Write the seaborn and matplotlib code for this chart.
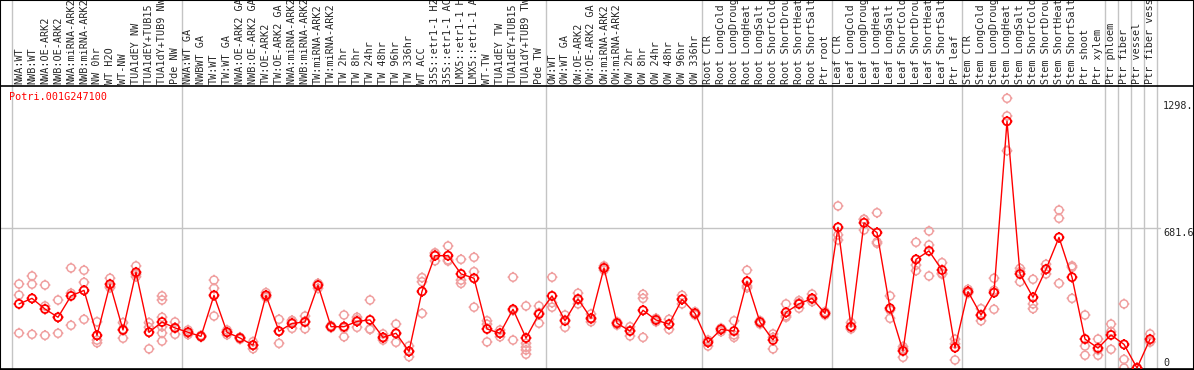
import matplotlib
matplotlib.use("Agg")
import matplotlib.pyplot as plt
from matplotlib.path import Path
from matplotlib.markers import MarkerStyle
import matplotlib.transforms as mtransforms
import pandas as pd
import seaborn as sns

gene = "Potri.001G247100"

samples = [
    "NWA:WT", "NWB:WT", "NWA:OE-ARK2", "NWB:OE-ARK2", "NWA:miRNA-ARK2", "NWB:miRNA-ARK2",
    "NW 0hr", "WT H2O", "WT-NW", "TUA1dEY NW", "TUA1dEY+TUB15 NW", "TUA1dY+TUB9 NW", "Pde NW",
    "NWA:WT GA", "NWBWT GA", "TW:WT", "TW:WT GA", "NWA:OE-ARK2 GA", "NWB:OE-ARK2 GA",
    "TW:OE-ARK2", "TW:OE-ARK2 GA", "NWA:miRNA-ARK2 GA", "NWB:miRNA-ARK2 GA", "TW:miRNA-ARK2",
    "TW:miRNA-ARK2 GA", "TW 2hr", "TW 8hr", "TW 24hr", "TW 48hr", "TW 96hr", "TW 336hr",
    "WT ACC", "35S::etr1-1 H2O", "35S::etr1-1 ACC", "LMX5::etr1-1 H2O", "LMX5::etr1-1 ACC",
    "WT-TW", "TUA1dEY TW", "TUA1dEY+TUB15 TW", "TUA1dY+TUB9 TW", "Pde TW",
    "OW:WT", "OW:WT GA", "OW:OE-ARK2", "OW:OE-ARK2 GA", "OW:miRNA-ARK2", "OW:miRNA-ARK2 GA",
    "OW 2hr", "OW 8hr", "OW 24hr", "OW 48hr", "OW 96hr", "OW 336hr",
    "Root CTR", "Root LongCold", "Root LongDrought", "Root LongHeat", "Root LongSalt",
    "Root ShortCold", "Root ShortDrought", "Root ShortHeat", "Root ShortSalt", "Ptr root",
    "Leaf CTR", "Leaf LongCold", "Leaf LongDrought", "Leaf LongHeat", "Leaf LongSalt",
    "Leaf ShortCold", "Leaf ShortDrought", "Leaf ShortHeat", "Leaf ShortSalt", "Ptr leaf",
    "Stem CTR", "Stem LongCold", "Stem LongDrought", "Stem LongHeat", "Stem LongSalt",
    "Stem ShortCold", "Stem ShortDrought", "Stem ShortHeat", "Stem ShortSalt", "Ptr shoot",
    "Ptr xylem", "Ptr phloem", "Ptr fiber", "Ptr vessel", "Ptr fiber vessel",
]

# last sample index of each group (separators drawn after these)
group_ends = [-1, 12, 40, 52, 62, 72, 83, 84, 85, 86, 87]

means = [
    312, 339, 287, 247, 351, 378, 159, 408, 185, 466,
    174, 224, 195, 174, 154, 354, 174, 146, 111, 354,
    179, 217, 224, 403, 201, 201, 227, 234, 149, 169,
    81, 373, 547, 547, 458, 437, 190, 169, 286, 146,
    263, 351, 230, 336, 242, 487, 218, 180, 281, 234,
    213, 334, 266, 125, 188, 180, 422, 223, 136, 271,
    312, 339, 266, 685, 201, 707, 659, 291, 83, 529,
    570, 477, 99, 372, 258, 367, 1201, 458, 344, 481,
    636, 442, 141, 97, 161, 115, 0, 140,
]

replicates = [
    [409, 355, 170], [448, 408, 164], [404, 302, 159], [331, 247, 169], [487, 364, 208],
    [476, 417, 237], [225, 136, 123], [437, 396, 391], [221, 189, 145], [497, 456, 445],
    [221, 198, 93], [351, 331, 247, 201, 170, 131], [224, 197, 164], [185, 174, 163],
    [159, 154, 150], [428, 388, 253], [185, 175, 162], [150, 148, 140], [128, 111, 94],
    [367, 351, 344], [237, 180, 120], [232, 226, 193], [253, 228, 191], [412, 409, 388],
    [206, 201, 196], [258, 193, 152], [247, 236, 198], [331, 190, 188], [166, 145, 136],
    [214, 168, 125], [107, 81, 55], [440, 420, 266], [561, 558, 522], [594, 526, 521],
    [529, 428, 412], [539, 469, 296], [230, 213, 127], [185, 170, 152], [442, 280, 136],
    [302, 120, 101, 88, 67], [302, 269, 218], [442, 318, 296], [258, 234, 198],
    [364, 332, 312], [263, 238, 225], [497, 487, 477], [225, 220, 209], [201, 183, 156],
    [359, 339, 149], [242, 235, 225], [237, 214, 188], [354, 336, 312], [274, 266, 258],
    [136, 132, 107], [194, 193, 177], [230, 161, 149], [476, 399, 391], [230, 225, 214],
    [166, 149, 93], [312, 254, 247], [328, 317, 291], [360, 334, 323], [274, 266, 258],
    [789, 648, 623], [221, 191, 191], [724, 724, 672], [756, 614, 607], [351, 282, 242],
    [104, 93, 52], [612, 501, 474], [667, 599, 448], [513, 461, 457], [140, 118, 39],
    [383, 369, 364], [289, 255, 230], [437, 378, 286], [1313, 1227, 1058], [485, 469, 420],
    [432, 312, 289], [505, 480, 458], [769, 729, 412], [497, 490, 339], [258, 107, 62],
    [141, 88, 62], [214, 177, 91], [312, 42, 0], [0, 0, 0], [166, 128, 126],
]

y_max_label = 1298
y_mid_label = 681.6

mean_df = pd.DataFrame({"pos": range(len(samples)), "value": means})
rep_df = pd.DataFrame(
    [(i, v) for i, reps in enumerate(replicates) for v in reps],
    columns=["pos", "value"],
)

sns.set_style("white")
plt.rcParams["font.family"] = ["DejaVu Sans Mono"]

# circle with four little ticks, like the original marker
circ = Path.unit_circle()
ticks = [Path([(0, 1), (0, 1.35)]), Path([(0, -1), (0, -1.35)]),
         Path([(1, 0), (1.35, 0)]), Path([(-1, 0), (-1.35, 0)])]
gear = MarkerStyle(Path.make_compound_path(circ, *ticks))

W, H = 1194, 370
fig = plt.figure(figsize=(W / 100, H / 100), dpi=100)
top_px, bot_px = 86, 369
ax = fig.add_axes([0, 1 - bot_px / H, 1, (bot_px - top_px) / H])

# pixel layout: column i at x = 19 + 13 i, value 0 at y=368, 681.6 at y=228
ppu = 140 / 681.6
ax.set_xlim(-19 / 13, (W - 19) / 13)
ax.set_ylim(-(bot_px - 368) / ppu, (368 - top_px) / ppu)

gray = "#c4c4c4"
for g in group_ends:
    ax.axvline(g + 0.5, ymin=0, ymax=bot_px / (bot_px - top_px), color=gray,
               lw=1, clip_on=False, zorder=0)
ax.axhline(y_mid_label, xmin=0, xmax=1160 / W, color=gray, lw=1, zorder=0)

sns.scatterplot(data=rep_df, x="pos", y="value", ax=ax, marker=gear, s=60,
                facecolors="none", edgecolor="#f0a0a0", linewidth=1.1,
                legend=False, zorder=2)
sns.lineplot(data=mean_df, x="pos", y="value", ax=ax, color="#ff0000", lw=1,
             zorder=3, legend=False)
sns.scatterplot(data=mean_df, x="pos", y="value", ax=ax, marker=gear, s=60,
                facecolors="none", edgecolor="#ff0000", linewidth=1.3,
                legend=False, zorder=4)

ax.xaxis.tick_top()
ax.set_xticks(range(len(samples)))
ax.set_xticklabels(samples, rotation=90, fontsize=7.3)
ax.tick_params(axis="x", length=0, pad=1.5)
ax.set_yticks([])
ax.set_xlabel("")
ax.set_ylabel("")
for sp in ax.spines.values():
    sp.set_color("black")
    sp.set_linewidth(1.2)

ax.text(9 / W, 1 - (92 - top_px) / (bot_px - top_px), gene, transform=ax.transAxes,
        color="#ff0000", fontsize=7.3, ha="left", va="top")
ax.text(1163 / W, y_max_label, f"{y_max_label}.", fontsize=7.3, ha="left", va="top")
ax.text(1163 / W, y_mid_label, f"{y_mid_label}", fontsize=7.3, ha="left", va="top",
        transform=mtransforms.blended_transform_factory(ax.transAxes, ax.transData))
ax.texts[-2].set_transform(mtransforms.blended_transform_factory(ax.transAxes, ax.transData))
ax.text(1163 / W, 0, "0", fontsize=7.3, ha="left", va="bottom",
        transform=mtransforms.blended_transform_factory(ax.transAxes, ax.transData))

# outer frame around the label band
fig.patches.append(plt.Rectangle((0, 0), 1, 1, transform=fig.transFigure, fill=False,
                                 edgecolor="black", lw=1.5))

fig.savefig("out.png", dpi=100)
